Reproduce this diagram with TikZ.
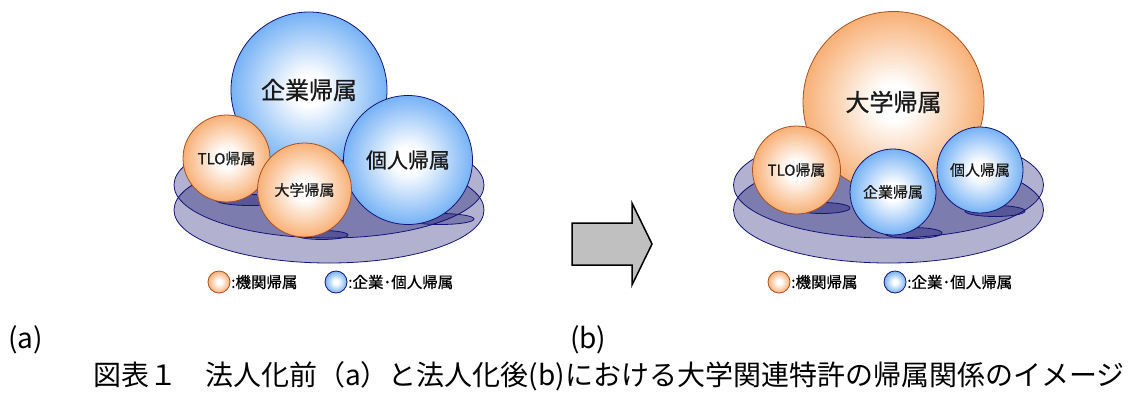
\documentclass[tikz,border=0pt]{standalone}
\usepackage{fontspec}
\newfontfamily\jp{Noto Sans CJK JP}
\newfontfamily\jpb[FakeBold=0.8]{Noto Sans CJK JP}
\definecolor{ballB}{RGB}{118,178,245}
\definecolor{ballO}{RGB}{248,176,118}
\definecolor{navyL}{RGB}{20,20,120}
\definecolor{brownL}{RGB}{170,80,30}
\definecolor{plateC}{RGB}{0,0,102}
\definecolor{arrowG}{RGB}{192,192,192}
\pgfdeclareradialshading{blueball}{\pgfpointorigin}{color(0bp)=(white); color(5bp)=(white); color(25bp)=(ballB); color(50bp)=(ballB)}
\pgfdeclareradialshading{orangeball}{\pgfpointorigin}{color(0bp)=(white); color(5bp)=(white); color(25bp)=(ballO); color(50bp)=(ballO)}
\tikzset{
  ballb/.style={circle, draw=navyL, line width=0.8pt, shading=blueball, inner sep=0pt, text=black!90},
  ballo/.style={circle, draw=brownL, line width=0.8pt, shading=orangeball, inner sep=0pt, text=black!90},
  plate/.style={draw=navyL, line width=0.8pt, fill=plateC, fill opacity=0.3},
  shadowe/.style={draw=navyL, line width=0.8pt, fill=plateC, fill opacity=0.3},
  bigtxt/.style={font=\jpb\fontsize{24}{24}\selectfont},
  midtxt/.style={font=\jpb\fontsize{21}{21}\selectfont},
  smalltxt/.style={font=\jpb\fontsize{15}{15}\selectfont},
  legtxt/.style={font=\jpb\fontsize{15.5}{16}\selectfont, anchor=west, inner sep=0pt},
  captxt/.style={font=\jp\fontsize{28}{28}\selectfont, anchor=west, inner sep=0pt},
  bigarrow/.style={draw=black, line width=1.5pt, fill=arrowG, line join=miter}
}
\begin{document}
\begin{tikzpicture}[x=1pt,y=-1pt]
\useasboundingbox (0,0) rectangle (1131,394);
\fill[white] (0,0) rectangle (1131,394);

% ---------- left group (a) ----------
\path[plate] (329,210) ellipse [x radius=155pt, y radius=53pt];
\path[plate] (329,185) ellipse [x radius=155pt, y radius=53pt];
\path[shadowe] (250,200) ellipse [x radius=34pt, y radius=5.5pt];
\path[shadowe] (322,235) ellipse [x radius=26pt, y radius=4.5pt];
\path[shadowe] (440,219) ellipse [x radius=34pt, y radius=5.5pt];

\node[ballb, bigtxt, minimum size=156pt] (kigyoA) at (309,90) {企業帰属};
\node[ballb, midtxt, minimum size=129pt] (kojinA) at (408,160) {個人帰属};
\node[ballo, smalltxt, minimum size=87pt] (tloA) at (226.5,158.5) {TLO帰属};
\node[ballo, smalltxt, minimum size=94pt] (daigakuA) at (304.5,190) {大学帰属};

% legend (a)
\node[ballo, minimum size=22pt] (legoA) at (219,282) {};
\node[legtxt] (legoAt) at (231,282) {:機関帰属};
\node[ballb, minimum size=22pt] (legbA) at (336,282) {};
\node[legtxt] (legbAt) at (348,282) {:企業･個人帰属};

% ---------- arrow ----------
\draw[bigarrow] (572,223) -- (632,223) -- (632,203) -- (652,244) -- (632,285) -- (632,265) -- (572,265) -- cycle;

% ---------- right group (b) ----------
\path[plate] (888.5,210) ellipse [x radius=155pt, y radius=53pt];
\path[plate] (888.5,185) ellipse [x radius=155pt, y radius=53pt];
\path[shadowe] (822,208) ellipse [x radius=28pt, y radius=5.5pt];
\path[shadowe] (913,233) ellipse [x radius=29pt, y radius=5.5pt];
\path[shadowe] (995,211) ellipse [x radius=30pt, y radius=5.5pt];

\node[ballo, bigtxt, minimum size=181pt] (daigakuB) at (893.5,102) {大学帰属};
\node[ballo, smalltxt, minimum size=88pt] (tloB) at (796.5,170) {TLO帰属};
\node[ballb, smalltxt, minimum size=86pt] (kigyoB) at (893,192) {企業帰属};
\node[ballb, smalltxt, minimum size=86pt] (kojinB) at (980,170) {個人帰属};

% legend (b)
\node[ballo, minimum size=22pt] (legoB) at (779,282) {};
\node[legtxt] (legoBt) at (791,282) {:機関帰属};
\node[ballb, minimum size=22pt] (legbB) at (895,282) {};
\node[legtxt] (legbBt) at (907,282) {:企業･個人帰属};

% ---------- labels and caption ----------
\node[captxt] (labA) at (8,340) {(a)};
\node[captxt] (labB) at (570,340) {(b)};
\node[captxt] (cap) at (93,376) {図表１　法人化前（a）と法人化後(b)における大学関連特許の帰属関係のイメージ};
\end{tikzpicture}
\end{document}
